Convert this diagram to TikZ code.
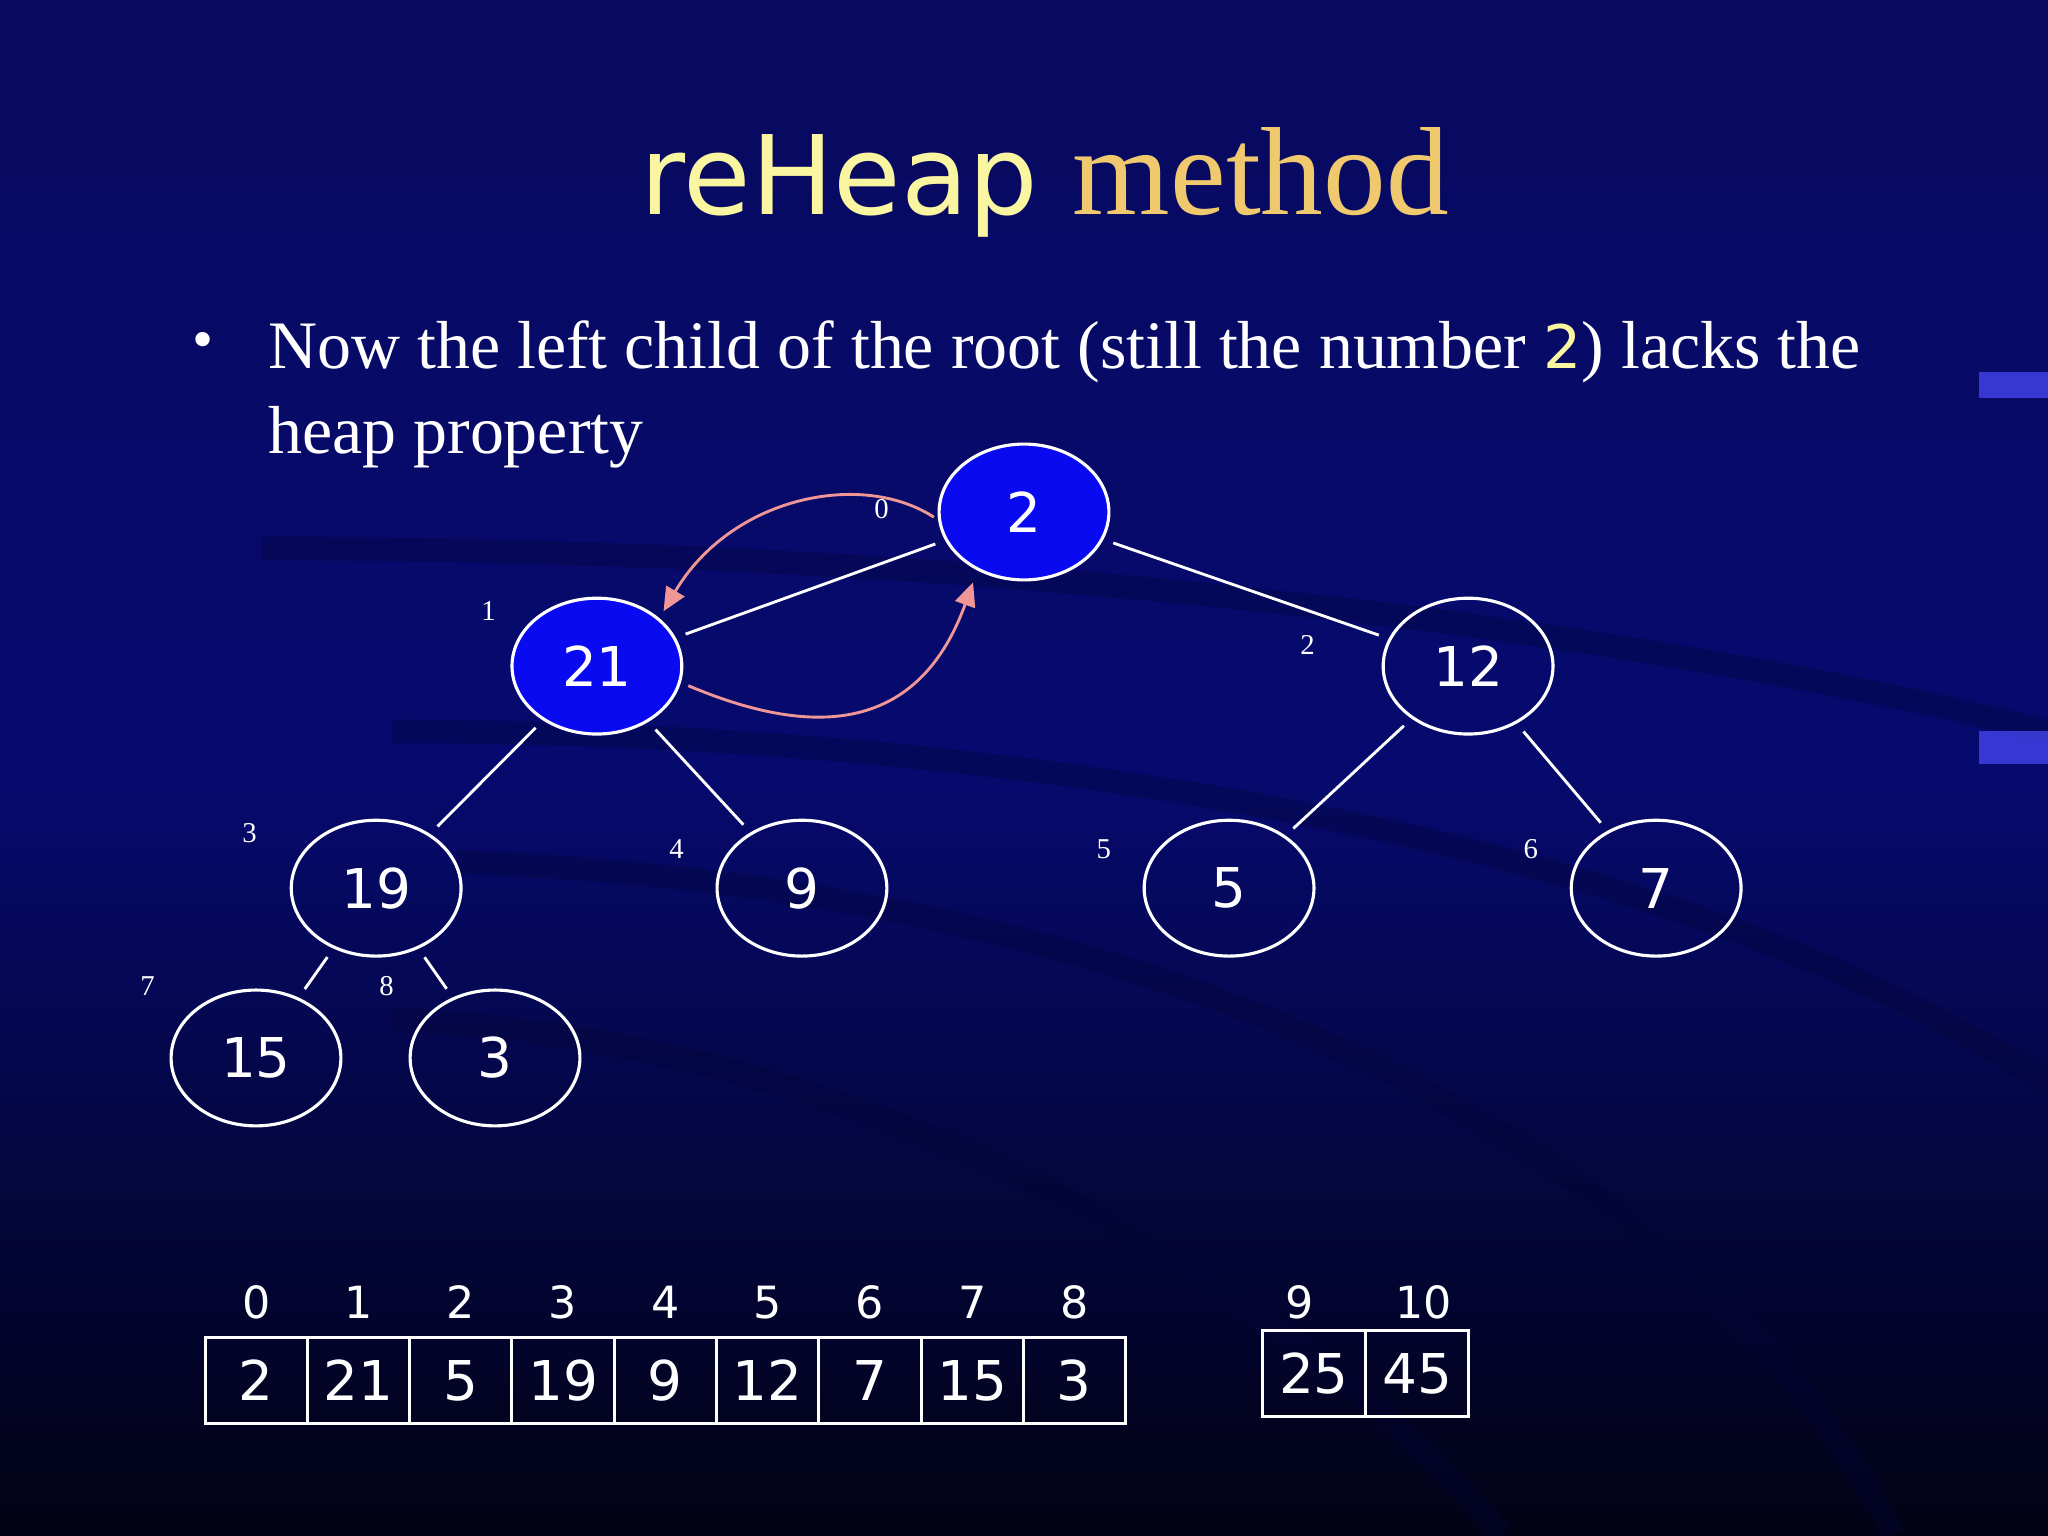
\documentclass[tikz,border=0pt]{standalone}
\usepackage{fontspec}
\setmainfont{Liberation Serif}
\newfontfamily\vsans{DejaVu Sans}
\usetikzlibrary{arrows.meta,shapes.geometric}
\definecolor{bgtop}{RGB}{8,10,95}
\definecolor{bgmid}{RGB}{6,10,110}
\definecolor{bgbot}{RGB}{2,2,20}
\definecolor{hblue}{RGB}{10,10,240}
\definecolor{pinkar}{RGB}{240,150,150}
\definecolor{ttlyel}{RGB}{250,245,160}
\definecolor{ttlgold}{RGB}{240,200,110}
\tikzset{
  hnode/.style={ellipse,draw=white,line width=1.2pt,minimum width=65pt,minimum height=52pt,inner sep=0pt,text=white,font=\vsans\fontsize{21}{24}\selectfont},
  hfill/.style={hnode,fill=hblue},
  idx/.style={text=white,font=\fontsize{11}{12}\selectfont},
  edge/.style={white,line width=1.1pt,shorten <=4pt,shorten >=4pt},
  swap/.style={pinkar,line width=1.1pt,-{Triangle[length=9pt,width=8pt]}},
  cell/.style={draw=white,line width=1.1pt,minimum width=39.2pt,minimum height=33pt,inner sep=0pt,text=white,font=\vsans\fontsize{21}{24}\selectfont},
  anum/.style={text=white,font=\vsans\fontsize{17}{20}\selectfont},
  band/.style={line width=9pt,black!50!bgmid,opacity=0.35}
}
\begin{document}
\begin{tikzpicture}[x=0.5pt,y=-0.5pt]
\useasboundingbox (0,0) rectangle (1568,1176);
\shade[top color=bgtop,bottom color=bgbot,middle color=bgmid] (0,0) rectangle (1568,1176);
% faint background bands
\draw[band] (200,420) .. controls (700,420) and (1200,470) .. (1568,560);
\draw[band] (300,560) .. controls (800,560) and (1300,650) .. (1568,830);
\draw[band] (350,660) .. controls (900,680) and (1300,880) .. (1450,1176);
\draw[band] (300,780) .. controls (700,800) and (1000,1000) .. (1150,1176);
\fill[blue!70!white,opacity=0.7] (1515,285) rectangle (1568,305);
\fill[blue!70!white,opacity=0.7] (1515,560) rectangle (1568,585);
% title
\node (title) at (800,140) {\vsans\fontsize{42}{48}\selectfont\color{ttlyel}reHeap \fontsize{48}{52}\rmfamily\color{ttlgold}method};
% bullet
\node[anchor=west,text=white,font=\fontsize{23}{32}\selectfont] (bul) at (140,265) {\textbullet};
\node[anchor=north west,text=white,align=left,font=\fontsize{26}{32.5}\selectfont,inner sep=0pt] (txt) at (205,245) {Now the left child of the root (still the number {\vsans\fontsize{23}{26}\selectfont\color{ttlyel}2}) lacks the\\heap property};
% tree
\node[hfill] (n0) at (784,392) {2};
\node[hfill] (n1) at (457,510) {21};
\node[hnode] (n2) at (1124,510) {12};
\node[hnode] (n3) at (288,680) {19};
\node[hnode] (n4) at (614,680) {9};
\node[hnode] (n5) at (941,680) {5};
\node[hnode] (n6) at (1268,680) {7};
\node[hnode] (n7) at (196,810) {15};
\node[hnode] (n8) at (379,810) {3};
\draw[edge] (n0) -- (n1); \draw[edge] (n0) -- (n2);
\draw[edge] (n1) -- (n3); \draw[edge] (n1) -- (n4);
\draw[edge] (n2) -- (n5); \draw[edge] (n2) -- (n6);
\draw[edge] (n3) -- (n7); \draw[edge] (n3) -- (n8);
\node[idx] (i0) at (675,390) {0};
\node[idx] (i1) at (374,468) {1};
\node[idx] (i2) at (1001,494) {2};
\node[idx] (i3) at (191,638) {3};
\node[idx] (i4) at (518,650) {4};
\node[idx] (i5) at (845,650) {5};
\node[idx] (i6) at (1172,650) {6};
\node[idx] (i7) at (113,755) {7};
\node[idx] (i8) at (296,755) {8};
% swap arrows
\coordinate (s0) at (715,396); \coordinate (t1) at (508,468);
\coordinate (s1) at (527,525); \coordinate (t0) at (745,446);
\draw[swap] (s0) .. controls (660,360) and (560,380) .. (t1);
\draw[swap] (s1) .. controls (610,560) and (700,570) .. (t0);
% array
\foreach \v [count=\i from 0] in {2,21,5,19,9,12,7,15,3}{
  \node[cell] (a\i) at ({196.2+78.3*\i},1057) {\v};
  \node[anum] (l\i) at ({196.2+78.3*\i},997) {\i};
}
\node[cell] (b9) at (1006,1051.5) {25};
\node[cell] (b10) at (1085,1051.5) {45};
\node[anum] (l9) at (995,997) {9};
\node[anum] (l10) at (1090,997) {10};
\end{tikzpicture}
\end{document}
